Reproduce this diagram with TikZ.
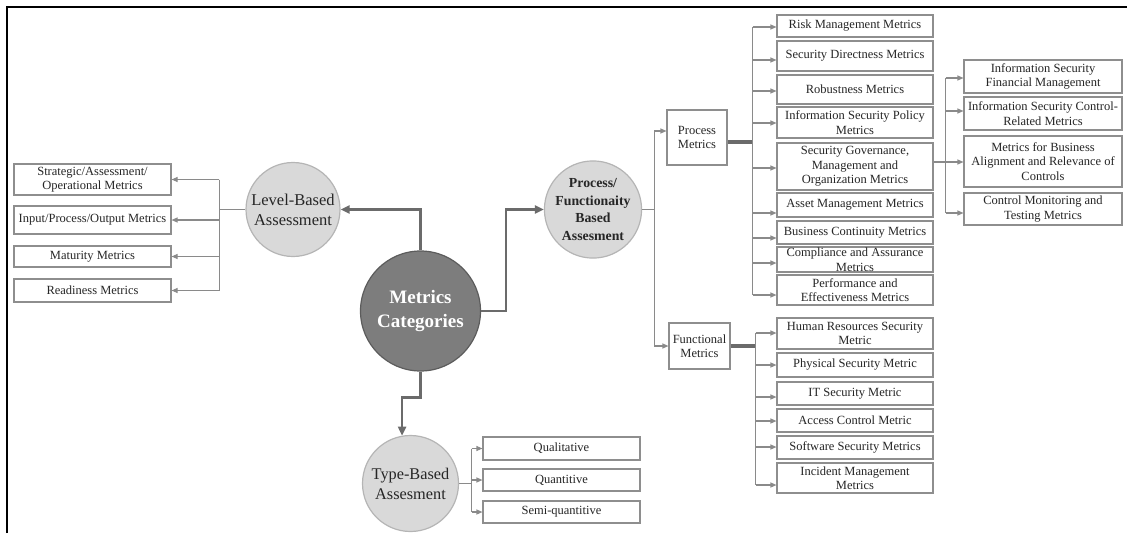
\documentclass[tikz,border=0pt]{standalone}
\usepackage{fontspec}
\setmainfont{Liberation Serif}
\usetikzlibrary{arrows.meta}

\definecolor{linegray}{HTML}{8A8A8A}
\definecolor{boxgray}{HTML}{8E8E8E}
\definecolor{maingray}{HTML}{6B6B6B}
\definecolor{lightfill}{HTML}{D9D9D9}
\definecolor{lightedge}{HTML}{B5B5B5}
\definecolor{darkfill}{HTML}{7D7D7D}
\definecolor{darkedge}{HTML}{5C5C5C}
\definecolor{inkgray}{HTML}{262626}

\begin{document}
\begin{tikzpicture}[x=1pt,y=-1pt,
  mbox/.style={draw=boxgray, line width=1.1pt, fill=white, align=center,
    inner sep=0pt, text=inkgray, font=\fontsize{12.5}{14.5}\selectfont},
  lcircle/.style={circle, draw=lightedge, line width=1.2pt, fill=lightfill,
    inner sep=0pt, align=center, text=inkgray},
  link/.style={draw=linegray, line width=1.1pt},
  linkarrow/.style={link, -{Triangle[length=6pt,width=5pt]}},
  mainarrow/.style={draw=maingray, line width=2.4pt, -{Triangle[length=9pt,width=8pt]}},
  fatlink/.style={draw=maingray, line width=3.5pt},
]
\useasboundingbox (0,0) rectangle (1127,533);

% frame
\draw[line width=2pt] (7,533) -- (7,6.5) -- (1127,6.5);

% hub circles
\node[circle, draw=darkedge, fill=darkfill, line width=1.2pt, minimum size=120pt,
  inner sep=0pt, align=center, text=white,
  font=\bfseries\fontsize{19}{24}\selectfont] (mc) at (420.5,311) {Metrics\\Categories};
\node[lcircle, minimum size=94pt, font=\fontsize{16.5}{20}\selectfont] (lb) at (293,209.5) {Level-Based\\Assessment};
\node[lcircle, minimum size=94pt, font=\bfseries\fontsize{13.8}{17.5}\selectfont] (pf) at (593,209.5) {Process/\\Functionaity\\Based\\Assesment};
\node[lcircle, minimum size=96pt, font=\fontsize{16.3}{20}\selectfont] (tb) at (410.5,483.5) {Type-Based\\Assesment};

% level-based metrics
\node[mbox, minimum width=157pt, minimum height=31pt] (l1) at (92.5,179.5) {Strategic/Assessment/\\Operational Metrics};
\node[mbox, minimum width=157pt, minimum height=28pt] (l2) at (92.5,220) {Input/Process/Output Metrics};
\node[mbox, minimum width=157pt, minimum height=21pt] (l3) at (92.5,256.5) {Maturity Metrics};
\node[mbox, minimum width=157pt, minimum height=23pt] (l4) at (92.5,290.5) {Readiness Metrics};

% process / functional groups
\node[mbox, minimum width=60pt, minimum height=55pt] (pm) at (697,137.5) {Process\\Metrics};
\node[mbox, minimum width=61pt, minimum height=46pt] (fm) at (699.5,346) {Functional\\Metrics};

% process metrics
\node[mbox, minimum width=156pt, minimum height=22pt] (p1) at (855,26) {Risk Management Metrics};
\node[mbox, minimum width=156pt, minimum height=30pt] (p2) at (855,56) {Security Directness Metrics};
\node[mbox, minimum width=156pt, minimum height=29pt] (p3) at (855,89.5) {Robustness Metrics};
\node[mbox, minimum width=156pt, minimum height=31pt] (p4) at (855,122.5) {Information Security Policy\\Metrics};
\node[mbox, minimum width=156pt, minimum height=47pt] (p5) at (855,166.5) {Security Governance,\\Management and\\Organization Metrics};
\node[mbox, minimum width=156pt, minimum height=24pt] (p6) at (855,205) {Asset Management Metrics};
\node[mbox, minimum width=156pt, minimum height=23pt] (p7) at (855,232.5) {Business Continuity Metrics};
\node[mbox, minimum width=156pt, minimum height=25pt] (p8) at (855,259.5) {Compliance and Assurance\\Metrics};
\node[mbox, minimum width=156pt, minimum height=30pt] (p9) at (855,290) {Performance and\\Effectiveness Metrics};

% governance sub-metrics
\node[mbox, minimum width=158pt, minimum height=33pt] (r1) at (1043,76.5) {Information Security\\Financial Management};
\node[mbox, minimum width=158pt, minimum height=33pt] (r2) at (1043,113.5) {Information Security Control-\\Related Metrics};
\node[mbox, minimum width=158pt, minimum height=51pt] (r3) at (1043,161.5) {Metrics for Business\\Alignment and Relevance of\\Controls};
\node[mbox, minimum width=158pt, minimum height=32pt] (r4) at (1043,209) {Control Monitoring and\\Testing Metrics};

% functional metrics
\node[mbox, minimum width=156pt, minimum height=31pt] (f1) at (855,333.5) {Human Resources Security\\Metric};
\node[mbox, minimum width=156pt, minimum height=24pt] (f2) at (855,365) {Physical Security Metric};
\node[mbox, minimum width=156pt, minimum height=23pt] (f3) at (855,393.5) {IT Security Metric};
\node[mbox, minimum width=156pt, minimum height=23pt] (f4) at (855,420.5) {Access Control Metric};
\node[mbox, minimum width=156pt, minimum height=23pt] (f5) at (855,447.5) {Software Security Metrics};
\node[mbox, minimum width=156pt, minimum height=30pt] (f6) at (855,478) {Incident Management\\Metrics};

% type-based metrics
\node[mbox, minimum width=157pt, minimum height=23pt] (t1) at (561.5,448.5) {Qualitative};
\node[mbox, minimum width=157pt, minimum height=22pt] (t2) at (561.5,480) {Quantitive};
\node[mbox, minimum width=157pt, minimum height=22pt] (t3) at (561.5,512) {Semi-quantitive};

% main connectors from the hub
\draw[mainarrow] (mc.north) |- (lb.east);
\draw[mainarrow] (mc.east) -- ++(25,0) |- (pf.west);
\draw[mainarrow] (mc.south) -- ++(0,26) -| (tb.100);

% level-based branch
\draw[link] (lb.west) -- ++(-26,0) coordinate (lt);
\draw[link] (lt |- l1.east) -- (lt |- l4.east);
\foreach \n in {l1,l2,l3,l4}
  \draw[linkarrow] (lt |- \n.east) -- (\n.east);

% process / functionality branch
\draw[link] (pf.east) -- ++(12,0) coordinate (pt);
\coordinate (inpm) at ([yshift=6.5pt]pm.west);
\draw[linkarrow] (pt) |- (inpm);
\draw[linkarrow] (pt) |- (fm.west);

% process metrics trunk
\draw[fatlink] ([yshift=-4.5pt]pm.east) -- ++(25,0) coordinate (ptk);
\foreach \n/\s in {p1/-1,p2/-4,p3/-1.5,p4/-0.5,p5/-1.5,p6/-8,p7/-5.5,p8/-3.5,p9/-5}
  \coordinate (in\n) at ([yshift=\s pt]\n.west);
\draw[link] (ptk |- inp1) -- (ptk |- inp9);
\foreach \n in {p1,p2,p3,p4,p5,p6,p7,p8,p9}
  \draw[linkarrow] (ptk |- in\n) -- (in\n);

% governance trunk
\draw[link] ([yshift=4.5pt]p5.east) -- ++(12,0) coordinate (rtk);
\foreach \n/\s in {r1/-1.5,r2/2.5,r3/-0.5,r4/-4}
  \coordinate (in\n) at ([yshift=\s pt]\n.west);
\draw[link] (rtk |- inr1) -- (rtk |- inr4);
\foreach \n in {r1,r2,r3,r4}
  \draw[linkarrow] (rtk |- in\n) -- (in\n);

% functional metrics trunk
\draw[fatlink] (fm.east) -- ++(25,0) coordinate (ftk);
\foreach \n/\s in {f1/0.5,f2/0,f3/-3.5,f4/-0.5,f5/0.5,f6/-7}
  \coordinate (in\n) at ([yshift=\s pt]\n.west);
\draw[link] (ftk |- inf1) -- (ftk |- inf6);
\foreach \n in {f1,f2,f3,f4,f5,f6}
  \draw[linkarrow] (ftk |- in\n) -- (in\n);

% type-based trunk
\draw[link] (tb.east) -- ++(12.5,0) coordinate (ttk);
\draw[link] (ttk |- t1.west) -- (ttk |- t3.west);
\foreach \n in {t1,t2,t3}
  \draw[linkarrow] (ttk |- \n.west) -- (\n.west);

\end{tikzpicture}
\end{document}
